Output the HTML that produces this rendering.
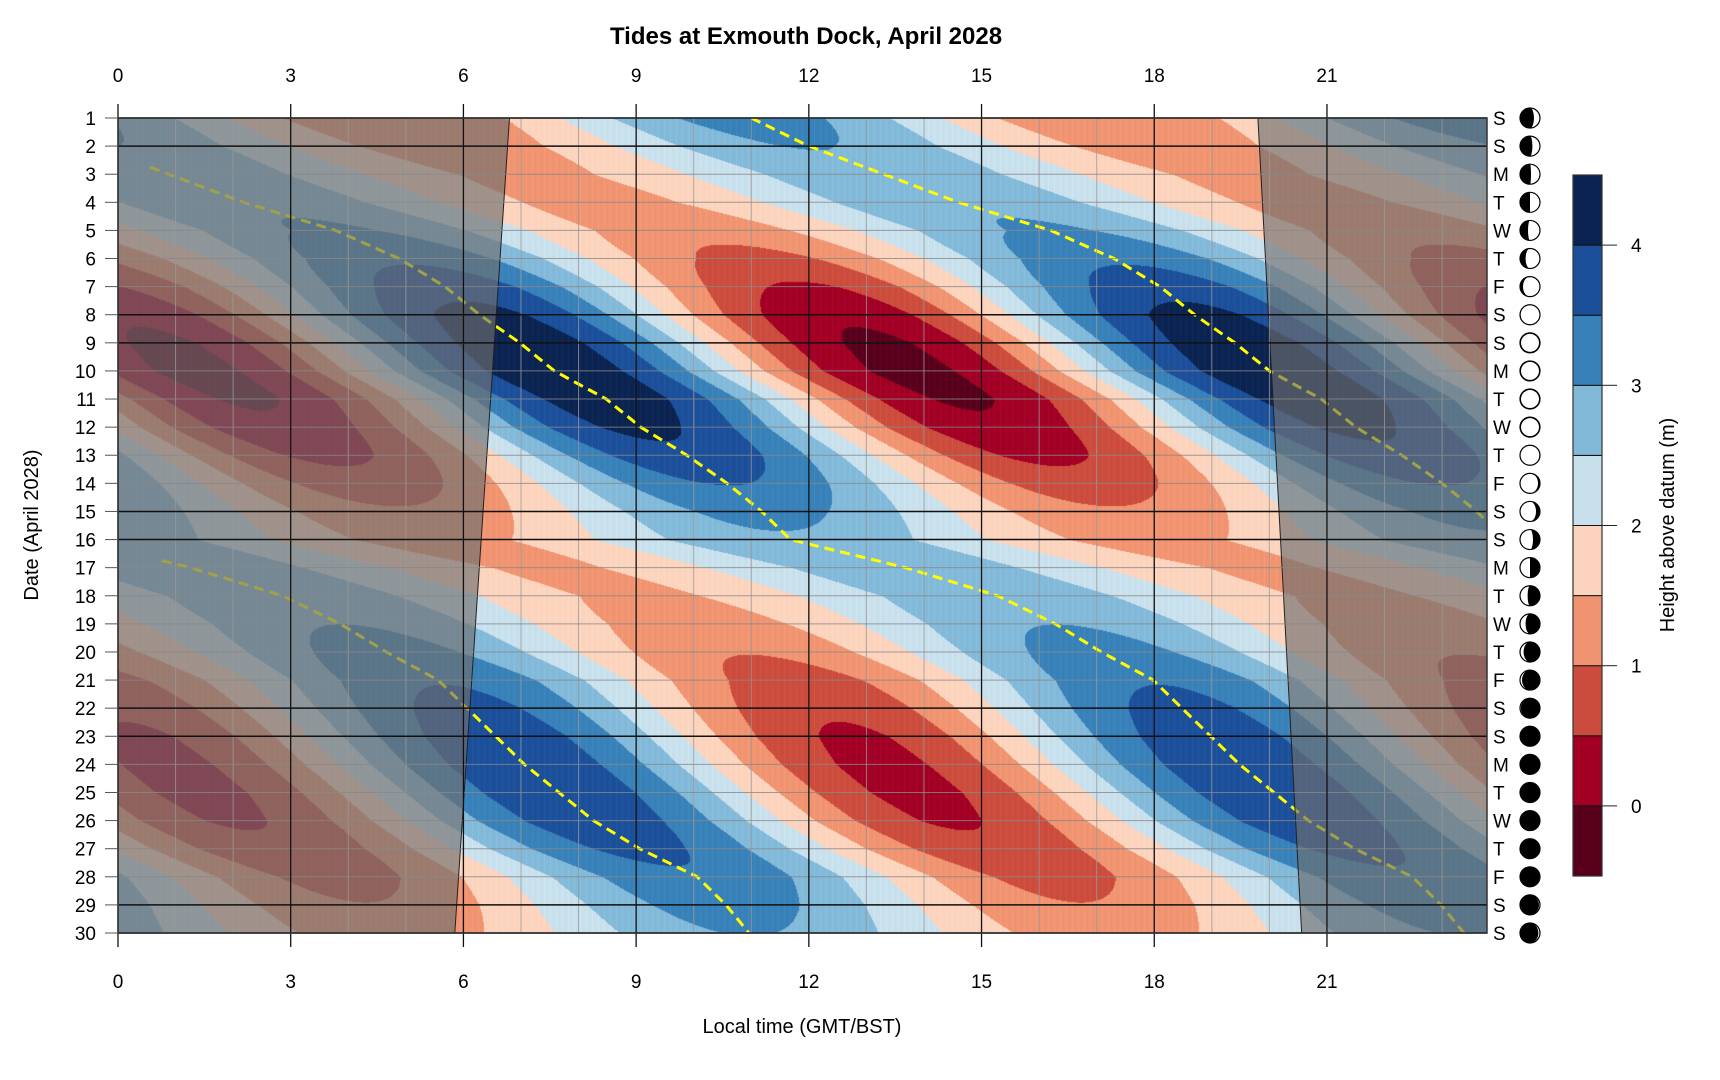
<!DOCTYPE html>
<html><head><meta charset="utf-8">
<style>
html,body{margin:0;padding:0;background:#fff;width:1720px;height:1080px;overflow:hidden;font-family:"Liberation Sans",sans-serif;}
#c{position:absolute;left:118px;top:118px;}
#s{position:absolute;left:0;top:0;}
</style></head><body>
<canvas id="c" width="1369" height="815"></canvas>
<svg id="s" width="1720" height="1080" xmlns="http://www.w3.org/2000/svg" font-family="Liberation Sans, sans-serif">
<defs><clipPath id="pc"><rect x="118" y="118" width="1369" height="815"/></clipPath></defs>
<g id="lines" clip-path="url(#pc)"></g>
<g id="over" clip-path="url(#pc)"></g>
<g id="grid"></g>
<text x="806" y="44" text-anchor="middle" font-size="24" font-weight="bold">Tides at Exmouth Dock, April 2028</text>
<text x="802" y="1033" text-anchor="middle" font-size="20">Local time (GMT/BST)</text>
<text transform="translate(38,525) rotate(-90)" text-anchor="middle" font-size="20">Date (April 2028)</text>
<text transform="translate(1674,525) rotate(-90)" text-anchor="middle" font-size="20">Height above datum (m)</text>
<g id="cb"></g>
</svg>
<script>
var X0=118,Y0=118,W=1369,H=815,HX=57.57,DY=815/29;
var HW=[11,12,13.3,14.6,16.2,17.3,18.1,18.7,19.4,20.0,20.9,21.5,22.3,23.0,23.6,24.1,26.1,27.7,28.7,29.5,30.4,30.9,31.4,31.9,32.5,33.1,33.9,34.9,35.4,35.8];
var AM=[1.1,0.9,0.75,0.8,0.95,1.3,1.7,2.05,2.22,2.28,2.2,2.0,1.75,1.4,1.05,0.8,0.7,0.72,0.88,1.1,1.35,1.55,1.7,1.76,1.76,1.68,1.5,1.3,1.1,0.9];
var P=12.42,M=2.12;
function itp(a,d){var i=Math.floor(d-1);if(i<0)i=0;if(i>28)i=28;var f=d-1-i;return a[i]*(1-f)+a[i+1]*f;}
var cols=["#58001b","#a10024","#cb4c3c","#ef9370","#fcd3bc","#c8dfec","#82b8d8","#3880b8","#1b4f9a","#0a2350"];
function rgb(h){return [parseInt(h.substr(1,2),16),parseInt(h.substr(3,2),16),parseInt(h.substr(5,2),16)];}
var C=cols.map(rgb);
var cv=document.getElementById('c'),ctx=cv.getContext('2d'),img=ctx.createImageData(W,H),D=img.data;
for(var py=0;py<H;py++){var d=1+py/DY,hw=itp(HW,d),a=itp(AM,d);
 for(var px=0;px<W;px++){var t=px/HX;var h=M+a*Math.cos(2*Math.PI*(t-hw)/P);
  var k=Math.floor((h+0.5)/0.5);if(k<0)k=0;if(k>9)k=9;var c=C[k];var o=(py*W+px)*4;
  var v=(px%6==0)?8:0;
  D[o]=Math.min(255,c[0]+v);D[o+1]=Math.min(255,c[1]+v);D[o+2]=Math.min(255,c[2]+v);D[o+3]=255;}}
ctx.putImageData(img,0,0);
var NS="http://www.w3.org/2000/svg";
function el(p,n,at,tx){var e=document.createElementNS(NS,n);for(var k in at)e.setAttribute(k,at[k]);if(tx!==undefined)e.textContent=tx;p.appendChild(e);return e;}
function X(t){return X0+t*HX;}function Y(d){return Y0+(d-1)*DY;}
var lg=document.getElementById('lines');
for(var k=-3;k<=1;k++){var pts=[];for(var d=1;d<=30;d+=0.25){var t=itp(HW,d)+k*P;if(t<0.4||t>23.8)continue;if(k==1&&d<3)continue;pts.push(X(t).toFixed(1)+","+Y(d).toFixed(1));}
 if(pts.length>1)el(lg,'polyline',{points:pts.join(' '),fill:'none',stroke:'#ffff00','stroke-width':3,'stroke-dasharray':'10,6'});}
var og=document.getElementById('over');
el(og,'polygon',{points:[X(0),Y(1),X(6.8),Y(1),X(5.85),Y(30),X(0),Y(30)].join(' '),fill:'rgb(110,110,110)','fill-opacity':0.65,stroke:'#222','stroke-width':1});
el(og,'polygon',{points:[X(19.8),Y(1),X(24),Y(1),X(24),Y(30),X(20.56),Y(30)].join(' '),fill:'rgb(110,110,110)','fill-opacity':0.65,stroke:'#222','stroke-width':1});
var g=document.getElementById('grid');
for(var t=0;t<24;t++){el(g,'line',{x1:X(t),x2:X(t),y1:Y0,y2:Y0+H,stroke:'#999','stroke-width':1,'stroke-opacity':0.8});}
for(var d=1;d<=30;d++){el(g,'line',{x1:X0,x2:X0+W,y1:Y(d),y2:Y(d),stroke:'#888','stroke-width':1,'stroke-opacity':0.8});}
for(var t=0;t<24;t+=3){el(g,'line',{x1:X(t),x2:X(t),y1:Y0-14,y2:Y0+H+14,stroke:'#111','stroke-width':1.3});
 el(g,'text',{x:X(t),y:82,'text-anchor':'middle','font-size':19},t);
 el(g,'text',{x:X(t),y:988,'text-anchor':'middle','font-size':19},t);}
[1,2,8,9,15,16,22,23,29,30].forEach(function(d){el(g,'line',{x1:X0,x2:X0+W,y1:Y(d),y2:Y(d),stroke:'#111','stroke-width':1.5});});
el(g,'rect',{x:X0,y:Y0,width:W,height:H,fill:'none',stroke:'#333','stroke-width':1.5});
var days="SSMTWTFSSMTWTFSSMTWTFSSMTWTFSS";
var LF=[.3,.38,.45,.5,.6,.72,.85,.97,1,1,1,1,.97,.9,.8,.65,.5,.38,.28,.18,.1,.04,.01,0,0,0,0,.02,.05,.08];
for(var d=1;d<=30;d++){var y=Y(d);
 el(g,'line',{x1:X0-13,x2:X0,y1:y,y2:y,stroke:'#555','stroke-width':1});
 el(g,'text',{x:96,y:y+7,'text-anchor':'end','font-size':19},d);
 el(g,'text',{x:1493,y:y+7,'font-size':19},days[d-1]);
 var cx=1530,cy=y,r=10,f=LF[d-1];
 el(g,'circle',{cx:cx,cy:cy,r:r,fill:'#000'});
 if(f>0.005){var rx=Math.abs(1-2*f)*r;var right=(d<=10||d>=27);var p;
  if(f>=0.995){el(g,'circle',{cx:cx,cy:cy,r:r-1,fill:'#fff'});}
  else{ if(right){p="M"+cx+","+(cy-r)+" A"+r+","+r+" 0 0 1 "+cx+","+(cy+r)+" A"+rx+","+r+" 0 0 "+(f>0.5?1:0)+" "+cx+","+(cy-r)+"Z";}
   else{p="M"+cx+","+(cy-r)+" A"+r+","+r+" 0 0 0 "+cx+","+(cy+r)+" A"+rx+","+r+" 0 0 "+(f>0.5?0:1)+" "+cx+","+(cy-r)+"Z";}
   el(g,'path',{d:p,fill:'#fff'});}
 }
 el(g,'circle',{cx:cx,cy:cy,r:r,fill:'none',stroke:'#000','stroke-width':1.2});
}
var cb=document.getElementById('cb');var bt=175,st=70.1;
for(var i=0;i<10;i++){el(cb,'rect',{x:1573,y:bt+(9-i)*st,width:29,height:st,fill:cols[i],stroke:'#111','stroke-width':1});}
el(cb,'rect',{x:1573,y:bt,width:29,height:st*10,fill:'none',stroke:'#333','stroke-width':1.2});
for(var v=0;v<=4;v++){var yy=bt+(9-(v*2+1))*st+st;el(cb,'line',{x1:1602,x2:1617,y1:yy,y2:yy,stroke:'#222','stroke-width':1});
 el(cb,'text',{x:1631,y:yy+7,'font-size':19},v);}
</script>
</body></html>
